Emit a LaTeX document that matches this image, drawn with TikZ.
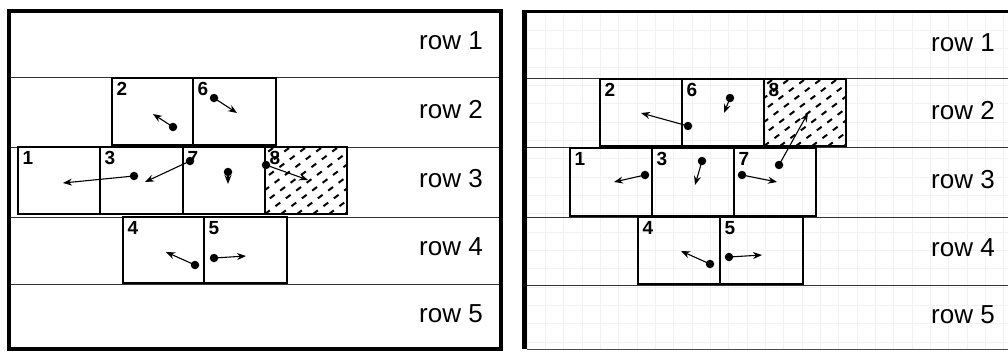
\documentclass[tikz,border=0pt]{standalone}
\usepackage{fontspec}
\setmainfont{Liberation Sans}
\usetikzlibrary{arrows.meta}
\newcommand\mycell[6]{%
  \node[cellbox, minimum width={#4-#2}, minimum height={#5-#3}] (#1) at ({(#2+#4)/2},{(#3+#5)/2}) {};
  \node[num] (#1n) at ([xshift=5.5pt,yshift=-5.5pt]#1.north west) {#6};}
\newcommand\mymove[5]{%
  \node[dot] (d#1) at (#2,#3) {};
  \coordinate (t#1) at (#4,#5);
  \draw[mv] (d#1) -- (t#1);}
\begin{document}
\begin{tikzpicture}[x=1pt,y=-1pt,
  cellbox/.style={draw, line width=2.3pt, inner sep=0pt},
  num/.style={font=\fontsize{19}{19}\selectfont\bfseries, inner sep=0pt, anchor=north west},
  rowlbl/.style={font=\fontsize{26}{26}\selectfont, inner sep=0pt, anchor=base east},
  dot/.style={circle, fill, inner sep=0pt, minimum size=8.5pt},
  mv/.style={line width=1.1pt, shorten <=-3pt, -{Stealth[length=9pt,width=7pt,inset=3pt]}},
  rowline/.style={line width=1pt, draw=black!80},
  frame/.style={line width=3.5pt},
  hatch/.style={line width=2pt, dash pattern=on 6pt off 7pt},
  gridline/.style={draw=black!5, line width=0.6pt}
]
\useasboundingbox (0,0) rectangle (1008,351);
\fill[white] (0,0) rectangle (1008,351);

% ---------- right panel grid ----------
\foreach \i in {0,...,27} {\draw[gridline] ({527+\i*18.33},12) -- ({527+\i*18.33},349);}
\foreach \j in {0,...,18} {\draw[gridline] (527,{12+\j*18.33}) -- (1008,{12+\j*18.33});}

% ---------- row lines ----------
\foreach \y in {77,147,217,284} {\draw[rowline] (11,\y) -- (499,\y);}
\foreach \y in {78,147,217,285} {\draw[rowline] (527,\y) -- (1008,\y);}

% ---------- frames ----------
\draw[frame] (9,11) rectangle (501,349);
\draw[line width=5pt] (524.5,349) -- (524.5,11.3);
\draw[line width=3pt] (522,11.3) -- (1008,11.3);
\draw[line width=1.5pt, draw=black!70] (527,349.5) -- (1008,349.5);

% ---------- hatching ----------
\begin{scope}
  \clip (265,147) rectangle (347,214);
  \foreach \k in {-8,...,8} {\draw[hatch] ({265+\k*16},214) -- ++(100,-75);}
\end{scope}
\begin{scope}
  \clip (764,79) rectangle (846,146);
  \foreach \k in {-8,...,8} {\draw[hatch] ({764+\k*16},146) -- ++(100,-75);}
\end{scope}

% ---------- row labels ----------
\node[rowlbl] (lr1) at (483,49) {row 1};
\node[rowlbl] (lr2) at (483,118) {row 2};
\node[rowlbl] (lr3) at (483,187) {row 3};
\node[rowlbl] (lr4) at (483,255) {row 4};
\node[rowlbl] (lr5) at (483,322) {row 5};
\node[rowlbl] (rr1) at (995,51) {row 1};
\node[rowlbl] (rr2) at (995,119) {row 2};
\node[rowlbl] (rr3) at (995,188) {row 3};
\node[rowlbl] (rr4) at (995,256) {row 4};
\node[rowlbl] (rr5) at (995,323) {row 5};

% ---------- left cells ----------
\mycell{L2}{112}{78}{193}{145}{2}
\mycell{L6}{193}{78}{276}{145}{6}
\mycell{L1}{18}{147}{100}{214}{1}
\mycell{L3}{100}{147}{183}{214}{3}
\mycell{L7}{183}{147}{265}{214}{7}
\mycell{L8}{265}{147}{347}{214}{8}
\mycell{L4}{123}{217}{204}{283}{4}
\mycell{L5}{204}{217}{287}{283}{5}

% ---------- right cells ----------
\mycell{R2}{600}{79}{682}{146}{2}
\mycell{R6}{682}{79}{764}{146}{6}
\mycell{R8}{764}{79}{846}{146}{8}
\mycell{R1}{570}{148}{652}{216}{1}
\mycell{R3}{652}{148}{734}{216}{3}
\mycell{R7}{734}{148}{816}{216}{7}
\mycell{R4}{638}{217}{720}{284}{4}
\mycell{R5}{720}{217}{803}{284}{5}

% ---------- left moves ----------
\mymove{L2}{173}{127}{153}{114}
\mymove{L6}{214}{98}{237}{113}
\mymove{L3}{134}{176}{63}{183}
\mymove{L7a}{190}{161}{145}{182}
\mymove{L7b}{228}{172}{228}{184}
\mymove{L8}{266}{165}{308}{180}
\mymove{L4}{195}{265}{166}{252}
\mymove{L5}{214}{258}{246}{256}

% ---------- right moves ----------
\mymove{R2}{688}{126}{641}{113}
\mymove{R6}{730}{98}{724}{113}
\mymove{R7b}{779}{165}{808}{113}
\mymove{R1}{645}{175}{614}{182}
\mymove{R3}{702}{161}{695}{185}
\mymove{R7a}{742}{175}{777}{182}
\mymove{R4}{710}{264}{681}{251}
\mymove{R5}{729}{257}{762}{255}
\end{tikzpicture}
\end{document}
